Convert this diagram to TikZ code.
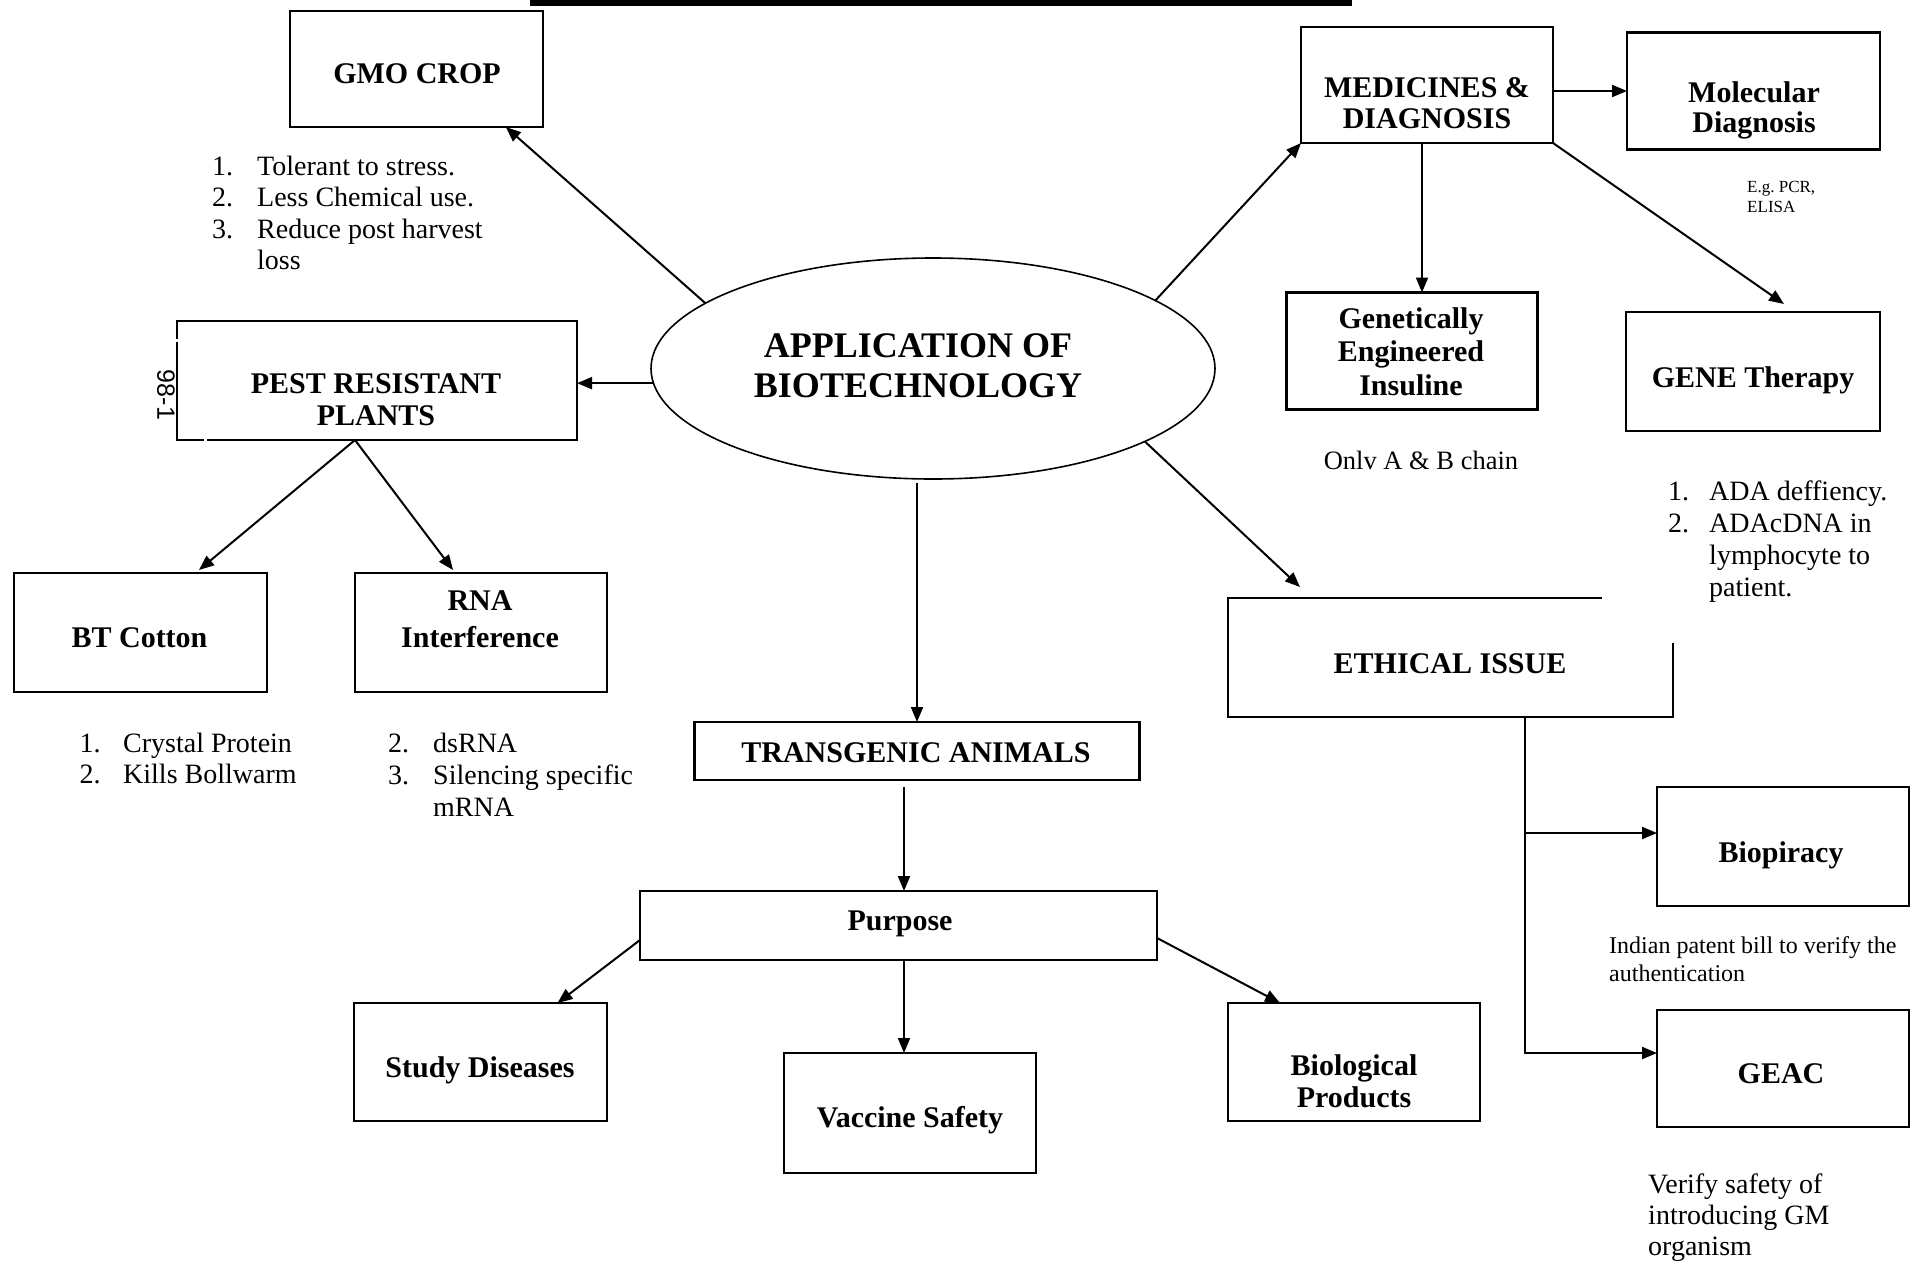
\documentclass[tikz,border=0pt]{standalone}
\usepackage{fontspec}
\setmainfont{Liberation Serif}
\newfontfamily\pagesans{Liberation Sans}
\usetikzlibrary{arrows.meta,shapes.geometric,calc}
% centred multi-line block whose baseline is that of its first line
\newcommand\mlines[1]{\begin{tabular}[t]{@{}c@{}}#1\end{tabular}}

\begin{document}
\begin{tikzpicture}[x=1pt,y=-1pt,
  box/.style={draw,line width=2.1pt,inner sep=0pt,outer sep=0pt},
  hd/.style={font=\bfseries\fontsize{30}{32}\selectfont,anchor=base,inner sep=0pt},
  note/.style={font=\fontsize{28}{31.5}\selectfont,anchor=base west,inner sep=0pt},
  arr/.style={line width=2pt,-{Triangle[length=15pt,width=12pt]}},
  ln/.style={line width=2.1pt}]

\useasboundingbox (0,0) rectangle (1910,1261);
\fill[white] (0,0) rectangle (1910,1261);

% rule along the top edge
\fill[black] (530,0) rectangle (1352,6);

% ---------- boxes ----------
\node[draw,ellipse,line width=1.6pt,inner sep=0pt,outer sep=0pt,
      minimum width=564pt,minimum height=221pt] (app) at (933,368.5) {};
\node[box,minimum width=253pt,minimum height=116pt] (gmo)   at (416.5,69)   {};
\node[box,minimum width=400pt,minimum height=119pt] (pest)  at (377,380.5)  {};
\node[box,minimum width=253pt,minimum height=119pt] (bt)    at (140.5,632.5) {};
\node[box,minimum width=252pt,minimum height=119pt] (rna)   at (481,632.5)  {};
\node[box,minimum width=445pt,minimum height=58pt]  (trans) at (917,751)    {};
\node[box,minimum width=517pt,minimum height=69pt]  (purp)  at (898.5,925.5) {};
\node[box,minimum width=253pt,minimum height=118pt] (study) at (480.5,1062) {};
\node[box,minimum width=252pt,minimum height=120pt] (vacc)  at (910,1113)   {};
\node[box,minimum width=252pt,minimum height=118pt] (bio)   at (1354,1062)  {};
\node[box,minimum width=252pt,minimum height=116pt] (med)   at (1427,85)    {};
\node[box,minimum width=253pt,minimum height=117pt] (mol)   at (1753.5,91)  {};
\node[box,minimum width=251pt,minimum height=117pt] (gei)   at (1412,351)   {};
\node[box,minimum width=254pt,minimum height=119pt] (gene)  at (1753,371.5) {};
\node[inner sep=0pt,outer sep=0pt,minimum width=445pt,minimum height=119pt] (eth) at (1450.5,657.5) {};
\node[box,minimum width=252pt,minimum height=119pt] (biop)  at (1783,846.5) {};
\node[box,minimum width=252pt,minimum height=117pt] (geac)  at (1783,1068.5) {};

% open outline of the ethics box
\draw[ln] ($(eth.north west)+(374,0)$) -- (eth.north west) -- (eth.south west)
          -- (eth.south east) -- ($(eth.north east)+(0,45)$);

% small breaks in the pest box outline
\draw[white,line width=3pt] ($(pest.north west)+(-5,19)$) -- ($(pest.north west)+(5,19)$);
\draw[white,line width=3pt] ($(pest.south west)+(28,-4)$) -- ($(pest.south west)+(28,4)$);

% ---------- box texts ----------
\node[hd,font=\bfseries\fontsize{36}{40}\selectfont] (tapp) at (918,357) {\mlines{APPLICATION OF\\BIOTECHNOLOGY}};
\node[hd] (tgmo)   at (417,83)    {GMO CROP};
\node[hd] (tpest)  at (376,393)   {\mlines{PEST RESISTANT\\PLANTS}};
\node[hd] (tbt)    at (139.5,647) {BT Cotton};
\node[hd,font=\bfseries\fontsize{30}{37}\selectfont] (trna) at (480,610) {\mlines{RNA\\Interference}};
\node[hd] (ttrans) at (916,762)   {TRANSGENIC ANIMALS};
\node[hd] (tpurp)  at (900,930)   {Purpose};
\node[hd] (tstudy) at (480,1077)  {Study Diseases};
\node[hd] (tvacc)  at (910,1127)  {Vaccine Safety};
\node[hd] (tbio)   at (1354,1075) {\mlines{Biological\\Products}};
\node[hd,font=\bfseries\fontsize{30}{31}\selectfont] (tmed) at (1427,97) {\mlines{MEDICINES \&\\DIAGNOSIS}};
\node[hd,font=\bfseries\fontsize{30}{30}\selectfont] (tmol) at (1754,102) {\mlines{Molecular\\Diagnosis}};
\node[hd,font=\bfseries\fontsize{30}{33.5}\selectfont] (tgei) at (1411,328) {\mlines{Genetically\\Engineered\\Insuline}};
\node[hd] (tgene)  at (1753,387)  {GENE Therapy};
\node[hd] (teth)   at (1450,673)  {ETHICAL ISSUE};
\node[hd] (tbiop)  at (1781,862)  {Biopiracy};
\node[hd] (tgeac)  at (1781,1083) {GEAC};

% ---------- notes ----------
\node[note] (lgmo) at (212,175) {\begin{tabular}[t]{@{}p{45pt}@{}l@{}}
  1.&Tolerant to stress.\\2.&Less Chemical use.\\3.&Reduce post harvest\\&loss\end{tabular}};
\node[note] (lbt) at (79.5,752) {\begin{tabular}[t]{@{}p{43.5pt}@{}l@{}}
  1.&Crystal Protein\\2.&Kills Bollwarm\end{tabular}};
\node[note,font=\fontsize{28}{32}\selectfont] (lrna) at (388,752) {\begin{tabular}[t]{@{}p{45pt}@{}l@{}}
  2.&dsRNA\\3.&Silencing specific\\&mRNA\end{tabular}};
\node[note,font=\fontsize{28}{32}\selectfont] (lgene) at (1668,500) {\begin{tabular}[t]{@{}p{41pt}@{}l@{}}
  1.&ADA deffiency.\\2.&ADAcDNA in\\&lymphocyte to\\&patient.\end{tabular}};
\node[font=\fontsize{26.5}{30}\selectfont,anchor=base,inner sep=0pt] (tonly) at (1421,469) {Onlv A \& B chain};
\node[note,font=\fontsize{17}{20}\selectfont] (teg) at (1747,192) {\begin{tabular}[t]{@{}l@{}}E.g.\ PCR,\\ELISA\end{tabular}};
\node[note,font=\fontsize{24}{28}\selectfont] (tind) at (1609,953) {\begin{tabular}[t]{@{}l@{}}
  Indian patent bill to verify the\\authentication\end{tabular}};
\node[note,font=\fontsize{28}{31}\selectfont] (tver) at (1648,1193) {\begin{tabular}[t]{@{}l@{}}
  Verify safety of\\introducing GM\\organism\end{tabular}};
\node[font=\pagesans\fontsize{25}{25}\selectfont,rotate=-90,inner sep=0pt] (tpg) at (166,395) {98-1};

% ---------- connectors ----------
\draw[arr] (app.164) -- (gmo.-33);
\draw[arr] (app.183) -- (app.183 -| pest.east);
\draw[arr] (app.17) -- (med.south west);
\draw[arr] (app.-19) -- ($(eth.north west)+(72,-11)$);
\draw[arr,shorten <=4pt] (app.south -| trans.north) -- (trans.north);

\draw[arr] ($(pest.south)+(-22,0)$) -- ($(bt.north)+(58.5,-3)$);
\draw[arr] ($(pest.south)+(-22,0)$) -- ($(rna.north)+(-28,-3)$);

\draw[arr] ($(trans.south)+(-13,7)$) -- ($(purp.north)+(5.5,0)$);
\draw[arr] ($(purp.west)+(0,14.5)$) -- ($(study.north)+(77,0)$);
\draw[arr] ($(purp.south)+(5.5,0)$) -- ($(vacc.north)+(-6,0)$);
\draw[arr] ($(purp.east)+(0,12.5)$) -- ($(bio.north)+(-74,0)$);

\draw[arr] (med.east |- mol.west) -- (mol.west);
\draw[arr] ($(med.south)+(-5,0)$) -- ($(gei.north)+(10,0)$);
\draw[arr] (med.south east) -- ($(gene.north)+(31,-8)$);

\draw[arr] ($(eth.south west)+(297,0)$) |- ($(biop.west)+(0,-13.5)$);
\draw[arr] ($(eth.south west)+(297,0)$) |- ($(geac.west)+(0,-15.5)$);

\end{tikzpicture}
\end{document}
